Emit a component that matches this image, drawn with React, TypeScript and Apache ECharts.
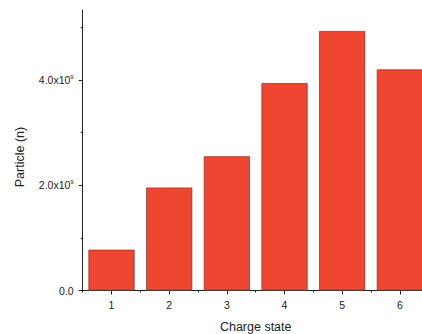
import React, { useEffect, useRef } from "react";
import * as echarts from "echarts";

const categories = ["1", "2", "3", "4", "5", "6"];
const particles = [0.775e9, 1.956e9, 2.55e9, 3.94e9, 4.93e9, 4.2e9];
const majorTicks = [0, 2e9, 4e9];
const minorTicks = [1e9, 3e9, 5e9];
const yMax = 5.33e9;

const FONT = "'Liberation Sans', Arial, sans-serif";
const TEXT = "#222";

export default function App() {
  const ref = useRef<HTMLDivElement>(null);
  useEffect(() => {
    if (!ref.current) return;
    const chart = echarts.init(ref.current, null, { renderer: "svg" });
    chart.setOption({
      animation: false,
      backgroundColor: "#fff",
      textStyle: { fontFamily: FONT },
      grid: {
        left: 82.7,
        top: 10,
        bottom: 43.5,
        width: 346,
        containLabel: false,
        outerBoundsMode: "none",
      },
      xAxis: [
        {
          type: "category",
          data: categories,
          position: "bottom",
          axisLine: { show: true, lineStyle: { color: TEXT, width: 1 } },
          axisTick: { show: true, alignWithLabel: true, length: 4, lineStyle: { color: TEXT } },
          axisLabel: { color: TEXT, fontSize: 10.5, margin: 9, fontFamily: FONT },
          splitLine: { show: false },
          name: "Charge state",
          nameLocation: "middle",
          nameGap: 30,
          nameTextStyle: { color: TEXT, fontSize: 12.5, fontFamily: FONT },
        },
        {
          type: "category",
          data: categories,
          position: "bottom",
          offset: 0,
          axisLine: { show: false },
          axisTick: { show: true, length: 2, lineStyle: { color: TEXT } },
          axisLabel: { show: false },
          splitLine: { show: false },
        },
      ],
      yAxis: [
        {
          type: "value",
          position: "left",
          min: 0,
          max: yMax,
          axisLine: { show: true, lineStyle: { color: TEXT, width: 1 } },
          axisTick: { show: true, length: 4, customValues: majorTicks, lineStyle: { color: TEXT } },
          axisLabel: {
            customValues: majorTicks,
            margin: 9,
            color: TEXT,
            fontFamily: FONT,
            formatter: (v: number) =>
              v === 0 ? "{a|0.0}" : `{a|${(v / 1e9).toFixed(1)}x10}{b|9}`,
            rich: {
              a: { fontSize: 10.5, color: TEXT, fontFamily: FONT },
              b: { fontSize: 6, color: TEXT, fontFamily: FONT, padding: [0, 0, 6, 0] },
            },
          },
          splitLine: { show: false },
        },
        {
          type: "value",
          position: "left",
          offset: 0,
          min: 0,
          max: yMax,
          axisLine: { show: false },
          axisTick: { show: true, length: 2, customValues: minorTicks, lineStyle: { color: TEXT } },
          axisLabel: { show: false },
          splitLine: { show: false },
        },
      ],
      graphic: [
        {
          type: "text",
          x: 20,
          y: 157,
          rotation: Math.PI / 2,
          style: {
            text: "Particle (n)",
            fill: TEXT,
            fontSize: 12.5,
            fontFamily: FONT,
            align: "center",
            verticalAlign: "middle",
          },
        },
      ],
      series: [
        {
          type: "bar",
          xAxisIndex: 0,
          yAxisIndex: 0,
          data: particles,
          barCategoryGap: "20%",
          itemStyle: { color: "#EE4631", borderColor: "#6b3a33", borderWidth: 0.7 },
        },
      ],
    });
    return () => chart.dispose();
  }, []);
  return (
    <div
      ref={ref}
      style={{ position: "absolute", left: 0, top: 0, width: 422, height: 334 }}
    />
  );
}
